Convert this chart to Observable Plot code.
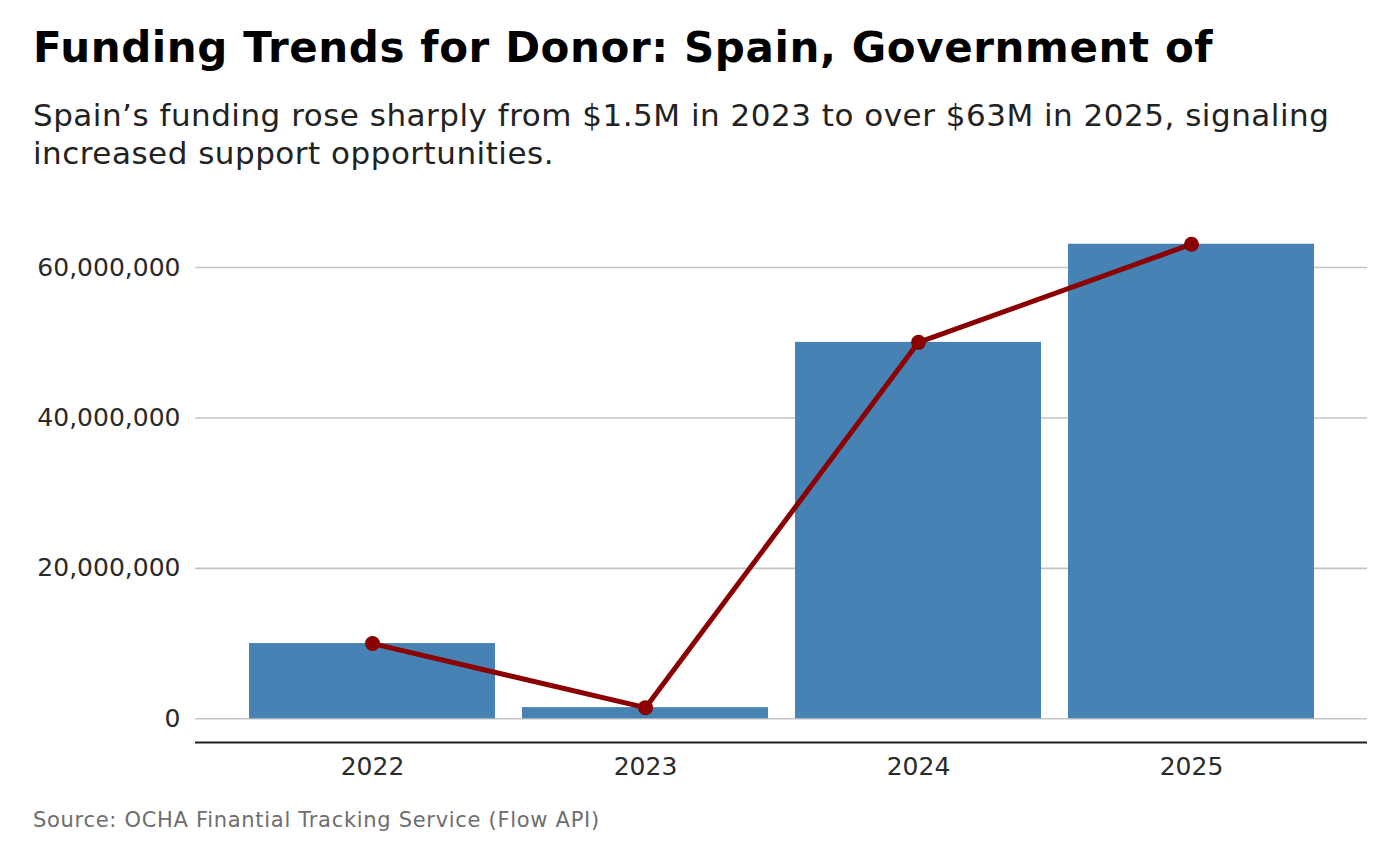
<!DOCTYPE html>
<html>
<head>
<meta charset="utf-8">
<script src="https://cdn.jsdelivr.net/npm/d3@7"></script>
<script src="https://cdn.jsdelivr.net/npm/@observablehq/plot@0.6"></script>
<style>
  html, body { margin: 0; padding: 0; background: #fff; }
  body { width: 1400px; height: 866px; position: relative; overflow: hidden; font-family: "DejaVu Sans", sans-serif; }
  #title { position: absolute; left: 33px; top: 23px; margin: 0; font-size: 42px; letter-spacing: 0.6px; font-weight: bold; color: #000; line-height: 1.2; white-space: nowrap; }
  #subtitle { position: absolute; left: 33px; top: 96px; width: 1345px; margin: 0; font-size: 31px; letter-spacing: 0.5px; color: #222; line-height: 38px; }
  #chart { position: absolute; left: 0; top: 200px; }
  #caption { position: absolute; left: 33px; top: 808px; margin: 0; font-size: 21px; letter-spacing: 0.7px; color: #6e6e6e; white-space: nowrap; }
</style>
</head>
<body>
<h1 id="title"></h1>
<p id="subtitle"></p>
<div id="chart"></div>
<p id="caption"></p>
<script>
const titleText = "Funding Trends for Donor: Spain, Government of";
const subtitleText = "Spain’s funding rose sharply from $1.5M in 2023 to over $63M in 2025, signaling increased support opportunities.";
const captionText = "Source: OCHA Finantial Tracking Service (Flow API)";

const years = ["2022", "2023", "2024", "2025"];
const funding = [10000000, 1480000, 50050000, 63100000];
const yTicks = [0, 20000000, 40000000, 60000000];

document.getElementById("title").textContent = titleText;
document.getElementById("subtitle").textContent = subtitleText;
document.getElementById("caption").textContent = captionText;

const data = years.map((y, i) => ({year: y, value: funding[i]}));
const maxV = d3.max(funding);
const yDomain = [-0.05 * maxV, maxV * 1.05];

const chart = Plot.plot({
  width: 1400,
  height: 600,
  marginLeft: 195,
  marginRight: 33,
  marginTop: 20,
  marginBottom: 58,
  style: {fontFamily: "DejaVu Sans, sans-serif", fontSize: "25px", color: "#2a2a2a", background: "#fff"},
  x: {type: "band", domain: years, paddingInner: 0.1, paddingOuter: 0.193, label: null},
  y: {domain: yDomain, ticks: yTicks, label: null},
  marks: [
    Plot.gridY(yTicks, {stroke: "#c4c4c4", strokeOpacity: 1, strokeWidth: 1.6}),
    Plot.barY(data, {x: "year", y: "value", fill: "#4682B4"}),
    Plot.ruleY([yDomain[0]], {stroke: "#222", strokeWidth: 2}),
    Plot.lineY(data, {x: "year", y: "value", stroke: "#8B0000", strokeWidth: 5}),
    Plot.dot(data, {x: "year", y: "value", fill: "#8B0000", r: 7.5}),
    Plot.axisY(yTicks, {tickSize: 0, tickPadding: 15, tickFormat: d3.format(","), fontSize: 25}),
    Plot.axisX({tickSize: 0, tickPadding: 15, fontSize: 25})
  ]
});
document.getElementById("chart").appendChild(chart);
</script>
</body>
</html>
